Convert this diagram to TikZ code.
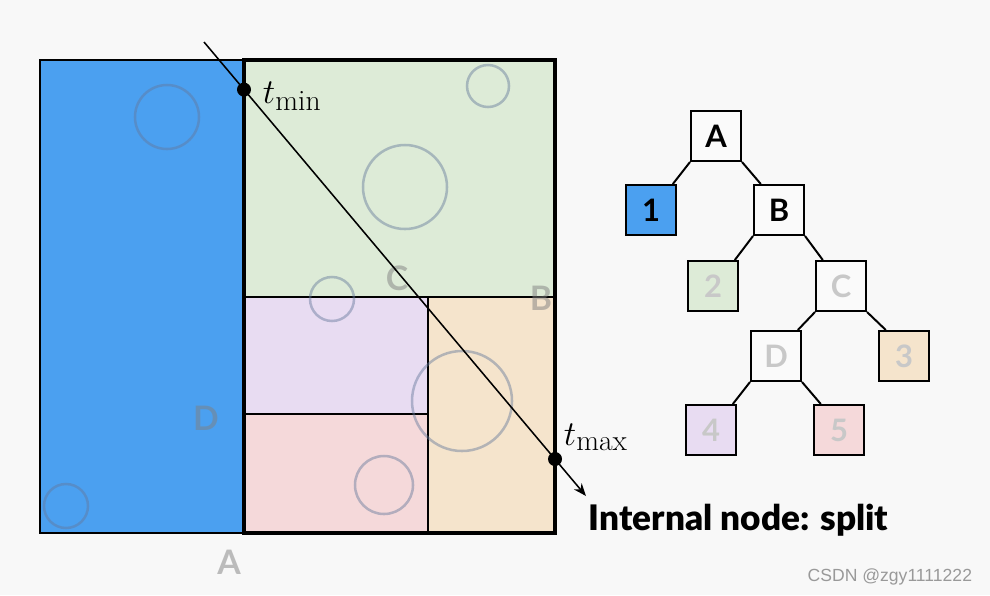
\documentclass[tikz,border=0pt]{standalone}
\usepackage{amsmath,amssymb}
\usepackage{fontspec}
\setsansfont{Lato}
\usetikzlibrary{arrows,arrows.meta}
\definecolor{bgcol}{RGB}{248,248,248}
\definecolor{leafblue}{RGB}{75,160,240}
\definecolor{leafgreen}{RGB}{221,235,215}
\definecolor{leafpurple}{RGB}{232,220,242}
\definecolor{leafpink}{RGB}{245,217,218}
\definecolor{leaforange}{RGB}{245,228,204}
\definecolor{ghost}{RGB}{200,200,200}
\definecolor{blob}{RGB}{100,120,155}
\tikzstyle{box} = [draw=black, line width=1.4pt, minimum size=1.25cm, inner sep=0pt, font=\sffamily\bfseries\fontsize{22}{26}\selectfont]
\tikzstyle{inner} = [box, fill=white!98!black]
\tikzstyle{ball} = [draw=blob, draw opacity=0.45, line width=1.8pt]
\tikzstyle{faded} = [font=\sffamily\bfseries\fontsize{24}{28}\selectfont, text=gray, text opacity=0.5]
\tikzstyle{edge} = [draw=black, line width=1.4pt]

\begin{document}
\begin{tikzpicture}[x=0.025cm,y=-0.025cm]
    \useasboundingbox[fill=bgcol] (0,0) rectangle (990,595);

    % leaves of the scene
    \filldraw[fill=leafblue, draw=black, line width=1.4pt] (40,60) rectangle (244,533);
    \fill[leafgreen] (244,60) rectangle (555,297);
    \fill[leafpurple] (244,297) rectangle (428,414);
    \fill[leafpink] (244,414) rectangle (428,533);
    \fill[leaforange] (428,297) rectangle (555,533);

    \begin{scope}[line width=1.4pt]
    \draw (244,297) -- (555,297);
    \draw (428,297) -- (428,533);
    \draw (244,414) -- (428,414);
    \end{scope}

    \draw[ball] (167,117) circle (32);
    \draw[ball] (488,86) circle (21);
    \draw[ball] (405,187) circle (42);
    \draw[ball] (332,299) circle (22);
    \draw[ball] (462,401) circle (50);
    \draw[ball] (384,485) circle (29);
    \draw[ball] (66,506) circle (22);

    \draw[line width=2.85pt] (244,60) rectangle (555,533);

    \node[faded] (lA) at (229,562) {A};
    \node[faded] (lB) at (541,298) {B};
    \node[faded] (lC) at (397,278) {C};
    \node[faded] (lD) at (206,418) {D};

    % the ray
    \coordinate (rs) at (204,42);
    \coordinate (re) at (586,496);
    \coordinate (tmin) at (244,89.6);
    \coordinate (tmax) at (555,459);
    \draw[-{Stealth[length=9pt,width=7pt]}, line width=1.1pt] (rs) -- (re);
    \fill (tmin) circle (7);
    \fill (tmax) circle (7);
    \node[anchor=west, font=\fontsize{30}{34}\selectfont] (lmin) at (258,96) {$t_{\min}$};
    \node[anchor=west, font=\fontsize{30}{34}\selectfont] (lmax) at (559,437) {$t_{\max}$};

    \node[anchor=west, font=\sffamily\fontsize{25}{30}\selectfont\fontspec{Lato Black}] (cap) at (584,520) {Internal node: split};

    % the tree
    \node[inner] (A) at (716,136) {A};
    \node[box, fill=leafblue] (n1) at (651,210) {1};
    \node[inner] (B) at (779,210) {B};
    \node[box, fill=leafgreen, text=ghost] (n2) at (713,286) {2};
    \node[inner, text=ghost] (C) at (841,286) {C};
    \node[inner, text=ghost] (D) at (776,356) {D};
    \node[box, fill=leaforange, text=ghost] (n3) at (904,356) {3};
    \node[box, fill=leafpurple, text=ghost] (n4) at (711,430) {4};
    \node[box, fill=leafpink, text=ghost] (n5) at (839,430) {5};

    \draw[edge] (A.south west) -- (n1.50);
    \draw[edge] (A.south east) -- (B.125);
    \draw[edge] (B.south west) -- (n2.50);
    \draw[edge] (B.south east) -- (C.125);
    \draw[edge] (C.south west) -- (D.50);
    \draw[edge] (C.south east) -- (n3.125);
    \draw[edge] (D.south west) -- (n4.50);
    \draw[edge] (D.south east) -- (n5.125);

    \node[anchor=east, text=gray!80, font=\fontsize{12.5}{15}\selectfont\fontspec{Liberation Sans}] (mark) at (977,577) {CSDN @zgy1111222};
\end{tikzpicture}
\end{document}
